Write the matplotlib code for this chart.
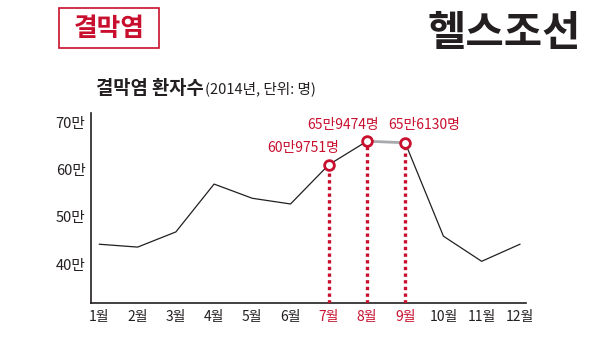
import matplotlib
matplotlib.use("Agg")
import matplotlib.pyplot as plt
from matplotlib.patches import Rectangle

plt.rcParams['font.family'] = ['Noto Sans CJK KR', 'DejaVu Sans']

# 2014 monthly conjunctivitis patients (unit: 10,000 people)
months = ['1월', '2월', '3월', '4월', '5월', '6월', '7월', '8월', '9월', '10월', '11월', '12월']
patients = [44.2, 43.6, 46.8, 56.9, 53.9, 52.7, 60.9751, 65.9474, 65.6130, 45.9, 40.6, 44.2]
highlight_idx = [6, 7, 8]
highlight_labels = ['60만9751명', '65만9474명', '65만6130명']
ytick_vals = [40, 50, 60, 70]
ytick_labels = ['40만', '50만', '60만', '70만']

RED = '#c8102e'
DARK = '#231f20'
W, H = 600, 338

fig = plt.figure(figsize=(W / 100, H / 100), dpi=100)
ax = fig.add_axes([91 / W, 1 - 303 / H, (526 - 91) / W, (303 - 113) / H])

x = list(range(1, 13))

# main line, with the plateau between August and September in grey
ax.plot(x[:8], patients[:8], color=DARK, lw=0.9, zorder=2)
ax.plot(x[8:], patients[8:], color=DARK, lw=0.9, zorder=2)
ax.plot(x[7:9], patients[7:9], color='#a7a9ac', lw=2.0, zorder=2)

ymin, ymax = 31.8, 71.9
ax.set_ylim(ymin, ymax)
ax.set_xlim(0.78, 12.16)

for i in highlight_idx:
    ax.vlines(x[i], ymin, patients[i], colors=RED, linestyles=(0, (1, 1)), lw=2.4, zorder=3)
    ax.plot(x[i], patients[i], marker='o', ms=7, mfc='white', mec=RED, mew=2.0, zorder=4)

# value labels above the highlighted points
label_pos = [(303, 148), (343, 125), (424, 125)]
for (px, py), lab in zip(label_pos, highlight_labels):
    fig.text(px / W, 1 - py / H, lab, color=RED, fontsize=10, ha='center', va='center')

ax.set_xticks(x)
ax.set_xticklabels(months, fontsize=10, color=DARK)
for i in highlight_idx:
    ax.get_xticklabels()[i].set_color(RED)
ax.set_yticks(ytick_vals)
ax.set_yticklabels(ytick_labels, fontsize=10.5, color=DARK)
ax.tick_params(axis='both', length=0)
ax.tick_params(axis='x', pad=5)
ax.tick_params(axis='y', pad=4)

for s in ['top', 'right']:
    ax.spines[s].set_visible(False)
for s in ['left', 'bottom']:
    ax.spines[s].set_color(DARK)
    ax.spines[s].set_linewidth(1.2)

# header: topic tag, brand, chart title
fig.patches.append(Rectangle((59 / W, 1 - 48 / H), 100 / W, 40 / H, transform=fig.transFigure,
                             fill=False, edgecolor=RED, lw=1.2))
fig.text(109 / W, 1 - 28 / H, '결막염', color=RED, fontsize=18.5, fontweight='bold',
         ha='center', va='center')
fig.text(581 / W, 1 - 34 / H, '헬스조선', color=DARK, fontsize=30, fontweight='heavy',
         ha='right', va='center')
title = fig.text(96 / W, 1 - 88 / H, '결막염 환자수', color=DARK, fontsize=13.5,
                 fontweight='bold', ha='left', va='center')
fig.canvas.draw()
tb = title.get_window_extent()
fig.text((tb.x1 + 1) / W, 1 - 89 / H, '(2014년, 단위: 명)', color=DARK, fontsize=10.5,
         ha='left', va='center')

fig.savefig('out.png', dpi=100, facecolor='white')
